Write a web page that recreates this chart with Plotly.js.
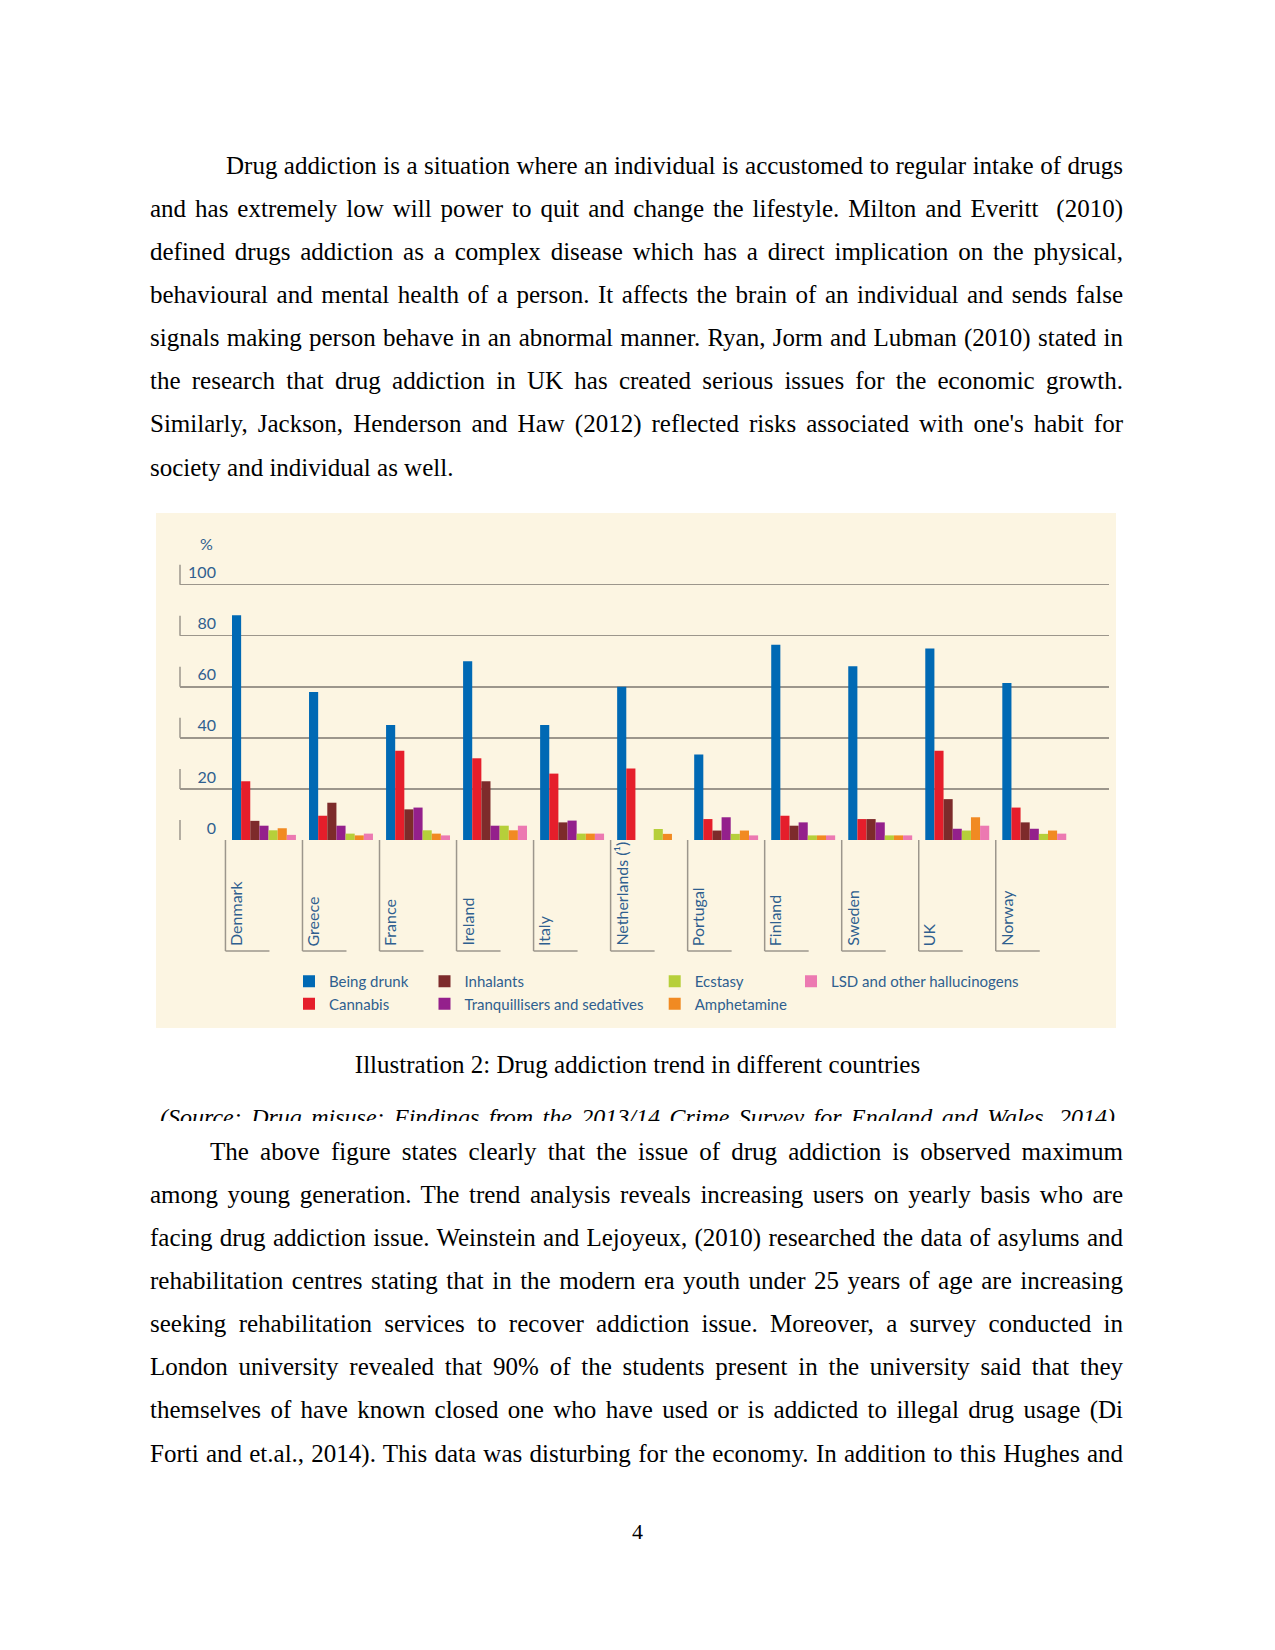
<!DOCTYPE html>
<html>
<head>
<meta charset="utf-8">
<script src="https://cdn.plot.ly/plotly-3.0.1.min.js"></script>
<style>
html,body{margin:0;padding:0;background:#ffffff;}
#page{position:relative;width:1275px;height:1650px;overflow:hidden;background:#ffffff;font-family:"Liberation Serif","Times New Roman",serif;color:#000;}
.ln{position:absolute;left:150px;width:973px;height:43px;line-height:43px;font-size:25px;white-space:nowrap;}
.l{text-align:left;}
#chart{position:absolute;left:156px;top:513px;width:960px;height:515px;}
#caption{position:absolute;left:0;width:1275px;top:1043px;height:43px;line-height:43px;font-size:25px;text-align:center;}
#srcclip{position:absolute;left:0;width:1275px;top:1100px;height:21px;overflow:hidden;}
#src{position:absolute;left:160px;width:955px;top:-4px;height:43px;line-height:43px;font-size:24px;font-style:italic;white-space:nowrap;}
#pnum{position:absolute;left:0;width:1275px;top:1512px;height:40px;line-height:40px;font-size:22px;text-align:center;}
</style>
</head>
<body>
<div id="page">
  <div class="ln j" style="top:143.5px;left:226px;width:897px;">Drug addiction is a situation where an individual is accustomed to regular intake of drugs</div>
  <div class="ln j" style="top:186.7px;">and has extremely low will power to quit and change the lifestyle. Milton and Everitt &nbsp;(2010)</div>
  <div class="ln j" style="top:229.8px;">defined drugs addiction as a complex disease which has a direct implication on the physical,</div>
  <div class="ln j" style="top:273px;">behavioural and mental health of a person. It affects the brain of an individual and sends false</div>
  <div class="ln j" style="top:316.1px;">signals making person behave in an abnormal manner. Ryan, Jorm and Lubman (2010) stated in</div>
  <div class="ln j" style="top:359.3px;">the research that drug addiction in UK has created serious issues for the economic growth.</div>
  <div class="ln j" style="top:402.4px;">Similarly, Jackson, Henderson and Haw (2012) reflected risks associated with one's habit for</div>
  <div class="ln l" style="top:445.6px;">society and individual as well.</div>

  <div id="chart"></div>

  <div id="caption">Illustration 2: Drug addiction trend in different countries</div>
  <div id="srcclip"><div id="src" class="j">(Source: Drug misuse: Findings from the 2013/14 Crime Survey for England and Wales, 2014)</div></div>

  <div class="ln j" style="top:1129.5px;left:210px;width:913px;">The above figure states clearly that the issue of drug addiction is observed maximum</div>
  <div class="ln j" style="top:1172.6px;">among young generation. The trend analysis reveals increasing users on yearly basis who are</div>
  <div class="ln j" style="top:1215.8px;">facing drug addiction issue. Weinstein and Lejoyeux, (2010) researched the data of asylums and</div>
  <div class="ln j" style="top:1258.9px;">rehabilitation centres stating that in the modern era youth under 25 years of age are increasing</div>
  <div class="ln j" style="top:1302.1px;">seeking rehabilitation services to recover addiction issue. Moreover, a survey conducted in</div>
  <div class="ln j" style="top:1345.2px;">London university revealed that 90% of the students present in the university said that they</div>
  <div class="ln j" style="top:1388.4px;">themselves of have known closed one who have used or is addicted to illegal drug usage (Di</div>
  <div class="ln j" style="top:1431.5px;">Forti and et.al., 2014). This data was disturbing for the economy. In addition to this Hughes and</div>

  <div id="pnum">4</div>
</div>
<script>
// justify each fixed line to its box width via word-spacing
document.querySelectorAll('.j').forEach(el => {
  const target = el.getBoundingClientRect().width;
  const span = document.createElement('span');
  while (el.firstChild) span.appendChild(el.firstChild);
  el.appendChild(span);
  const natural = span.getBoundingClientRect().width;
  const n = (span.textContent.match(/[ \u00a0]/g) || []).length;
  if (n > 0) span.style.wordSpacing = ((target - natural) / n) + 'px';
});
</script>
<script>
// ---- data ----
const countries = ["Denmark", "Greece", "France", "Ireland", "Italy", "Netherlands (¹)", "Portugal", "Finland", "Sweden", "UK", "Norway"];
const beingDrunk = [88, 58, 45, 70, 45, 60, 33.5, 76.5, 68, 75, 61.5];
const cannabis = [23, 9.5, 35, 32, 26, 28, 8.2, 9.5, 8.2, 35, 12.7];
const inhalants = [7.5, 14.6, 12, 23, 6.9, null, 3.7, 5.6, 8.2, 16, 6.9];
const tranquillisers = [5.6, 5.6, 12.7, 5.6, 7.6, null, 8.9, 6.9, 6.9, 4.4, 4.4];
const ecstasy = [3.8, 2.5, 3.8, 5.6, 2.5, 4.3, 2.4, 1.8, 1.8, 3.7, 2.4];
const amphetamine = [4.6, 1.8, 2.5, 3.8, 2.5, 2.4, 3.7, 1.8, 1.8, 8.9, 3.7];
const lsd = [2, 2.5, 1.8, 5.6, 2.5, null, 1.8, 1.8, 1.8, 5.6, 2.5];
const yTicks = [0, 20, 40, 60, 80, 100];
const yTickText = ["0", "20", "40", "60", "80", "100"];

// ---- styling ----
const F = 'Lato, "Liberation Sans", sans-serif';
const TXT = '#2f5f8f';
const GRID = '#9c968c';
const BG = '#fcf5e2';

const series = [
  {name: 'Being drunk', y: beingDrunk, color: '#0069b4', legend: 'legend'},
  {name: 'Cannabis', y: cannabis, color: '#e51e2b', legend: 'legend'},
  {name: 'Inhalants', y: inhalants, color: '#7d2b2b', legend: 'legend2'},
  {name: 'Tranquillisers and sedatives', y: tranquillisers, color: '#94208c', legend: 'legend2'},
  {name: 'Ecstasy', y: ecstasy, color: '#b6cf3a', legend: 'legend3'},
  {name: 'Amphetamine', y: amphetamine, color: '#f18a22', legend: 'legend3'},
  {name: 'LSD and other hallucinogens', y: lsd, color: '#ec79b1', legend: 'legend4'}
];

const traces = series.map(s => ({
  type: 'bar', name: s.name, x: countries, y: s.y,
  marker: {color: s.color, line: {width: 0}},
  legend: s.legend, hoverinfo: 'skip'
}));

const shapes = [];
countries.forEach((c, i) => {
  shapes.push({type: 'line', xref: 'x', yref: 'paper', x0: i - 0.5, x1: i - 0.5,
    ysizemode: 'pixel', yanchor: 0, y0: 0, y1: -111, line: {color: GRID, width: 1.5}});
  shapes.push({type: 'line', xref: 'x', yref: 'paper', xsizemode: 'pixel', xanchor: i - 0.5, x0: 0, x1: 44,
    ysizemode: 'pixel', yanchor: 0, y0: -111, y1: -111, line: {color: GRID, width: 1.5}});
});
yTicks.forEach(v => {
  shapes.push({type: 'line', xref: 'paper', yref: 'y', x0: 0, x1: 0,
    ysizemode: 'pixel', yanchor: v, y0: 0, y1: 20, line: {color: GRID, width: 1.5}});
});

const annotations = countries.map((c, i) => ({
  xref: 'x', yref: 'y', x: i - 0.5, y: 0, xshift: 10, yshift: -108,
  text: c, textangle: -90, showarrow: false, xanchor: 'center', yanchor: 'bottom',
  font: {family: F, size: 16, color: TXT}
}));
annotations.push({xref: 'paper', yref: 'paper', x: 0.028, y: 1.038, text: '%', showarrow: false,
  xanchor: 'center', yanchor: 'middle', font: {family: F, size: 16, color: TXT}});

const legBase = {orientation: 'v', bgcolor: 'rgba(0,0,0,0)', borderwidth: 0,
  font: {family: F, size: 15, color: TXT}, xref: 'container', yref: 'container',
  xanchor: 'left', yanchor: 'top', traceorder: 'normal', tracegroupgap: 0, itemwidth: 30};
const legY = 1 - 452 / 515;

const layout = {
  width: 960, height: 515,
  margin: {l: 24, r: 7, t: 41, b: 188, pad: 0, autoexpand: false},
  paper_bgcolor: BG, plot_bgcolor: BG,
  barmode: 'group', bargap: 0.17, bargroupgap: 0,
  showlegend: true,
  xaxis: {type: 'category', range: [-1.09, 10.97], showticklabels: false, ticks: '',
    showgrid: false, zeroline: false, showline: false, fixedrange: true},
  yaxis: {range: [0, 112], tickvals: yTicks, ticktext: yTickText, showgrid: true,
    gridcolor: GRID, gridwidth: 1.5, zeroline: false, showline: false, ticks: '',
    anchor: 'free', position: 0.0387, side: 'left', ticklabelshift: -12,
    tickfont: {family: F, size: 16, color: TXT}, fixedrange: true},
  shapes: shapes,
  annotations: annotations,
  legend: Object.assign({}, legBase, {x: 133 / 960, y: legY}),
  legend2: Object.assign({}, legBase, {x: 268.5 / 960, y: legY}),
  legend3: Object.assign({}, legBase, {x: 498.7 / 960, y: legY}),
  legend4: Object.assign({}, legBase, {x: 635 / 960, y: legY})
};

Plotly.newPlot('chart', traces, layout, {displayModeBar: false, staticPlot: true});
</script>
</body>
</html>
